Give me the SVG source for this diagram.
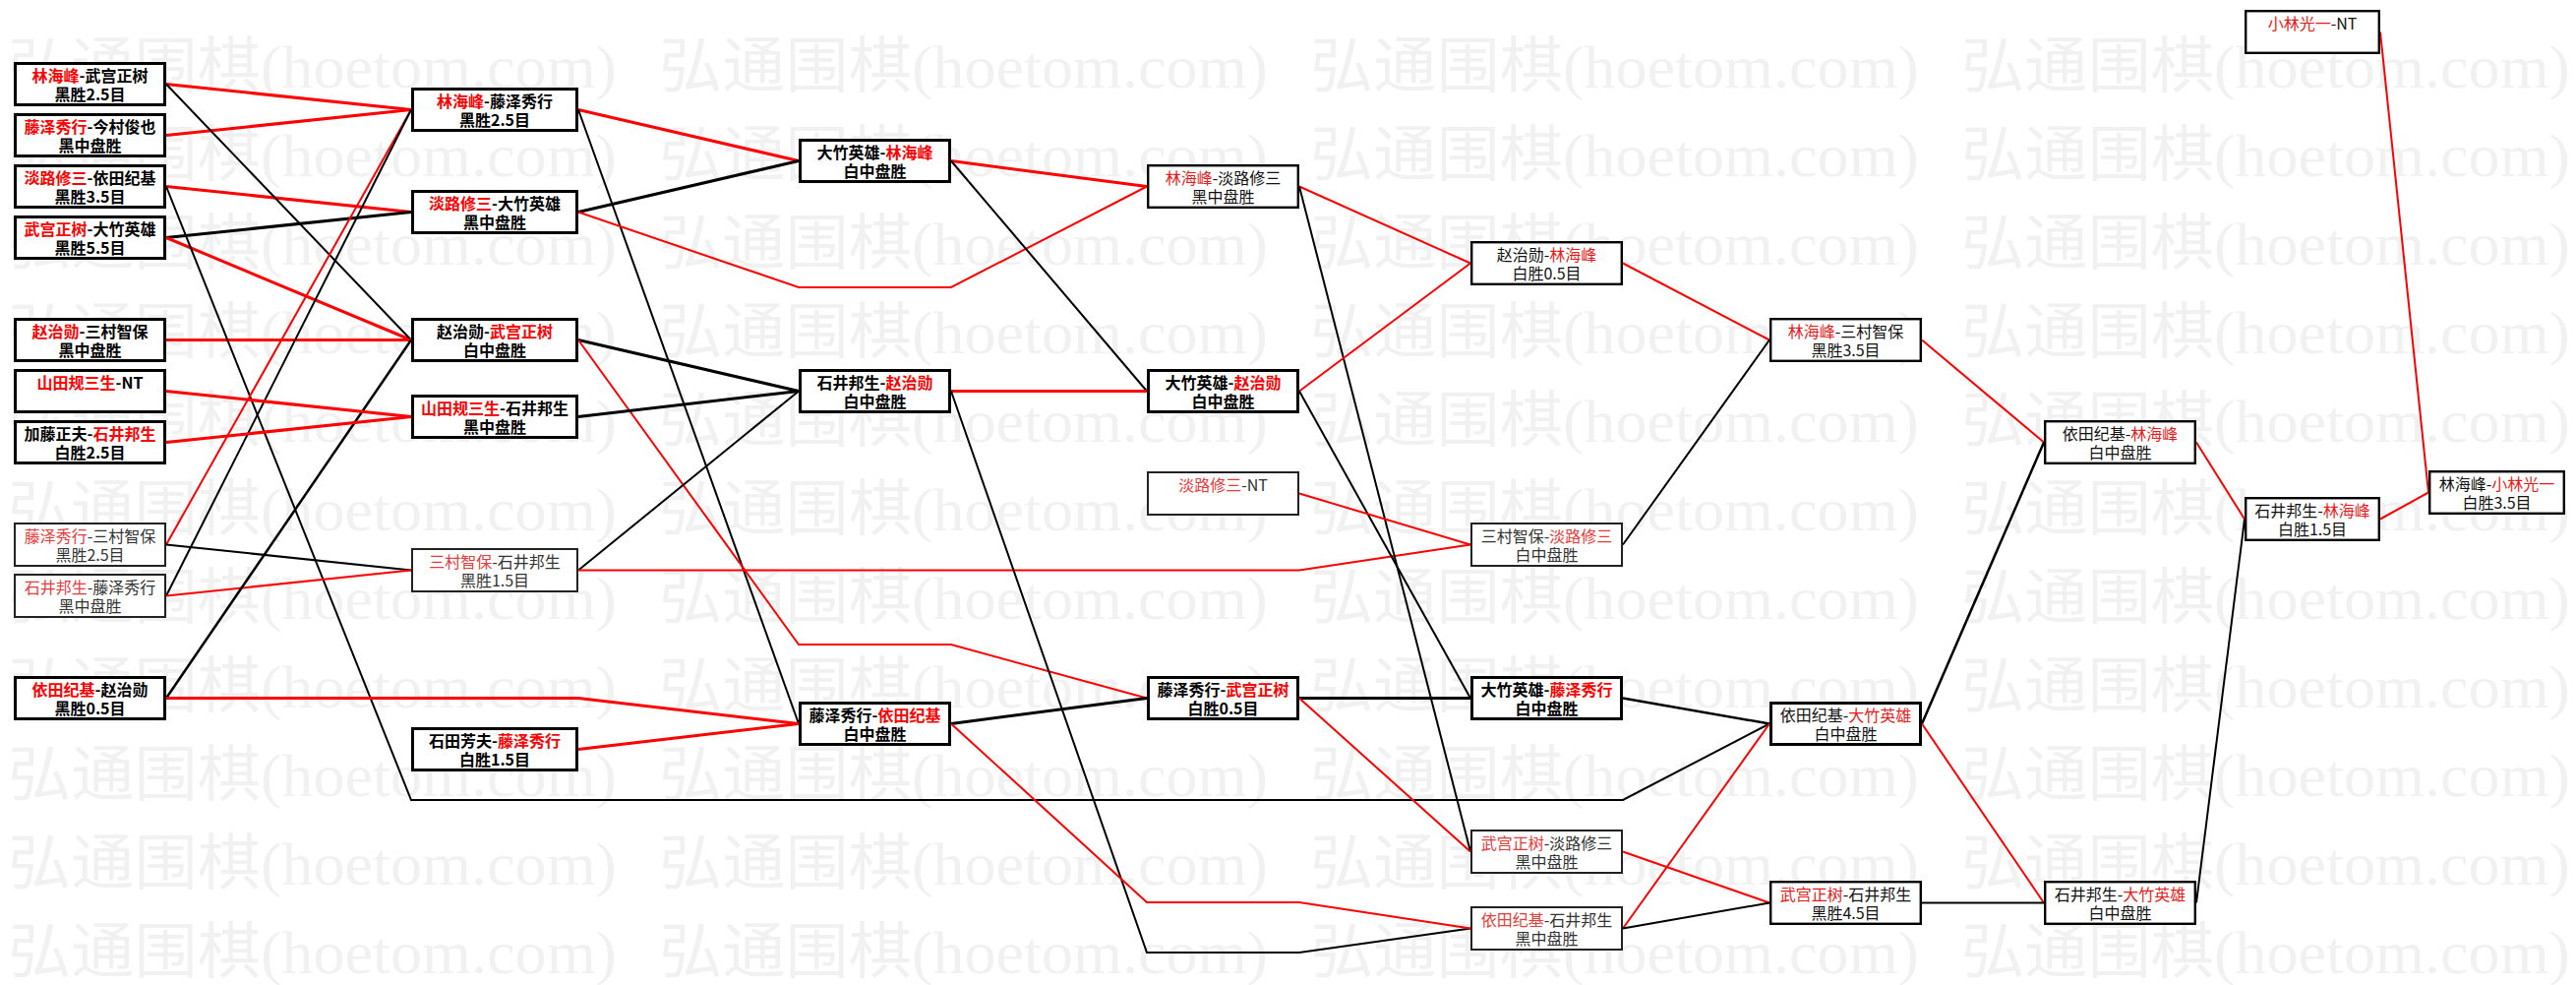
<svg xmlns="http://www.w3.org/2000/svg" width="2619" height="1001" viewBox="0 0 2619 1001">
<style>
.bg{fill:#fff}
.wm{font-family:"Liberation Serif","Noto Sans CJK SC",serif;font-size:62px;fill:#f1f1f1}
.node rect{fill:#fff;stroke:#000}
.s3 rect{stroke-width:3}
.s25 rect{stroke-width:2.4}
.s2 rect{stroke-width:2;stroke:#222}
.node text{font-family:"Noto Sans CJK SC","Noto Sans",sans-serif;font-size:16px;text-anchor:middle;fill:#111}
.bd text{font-weight:bold;fill:#000}
.node .r{fill:#e81a1a}
.bd .r{fill:#f00}
.s2 text{fill:#333}
.s2 .r{fill:#e83a3a}
#connectors path{fill:none;stroke-linejoin:miter}
.k{stroke:#000}
.rd{stroke:#f00}
.w3{stroke-width:3}
.w25{stroke-width:2.5}
.w2{stroke-width:2}
</style>
<rect class="bg" x="0" y="0" width="2619" height="1001"/>
<g id="watermark">
<text class="wm" x="8" y="89" textLength="619" lengthAdjust="spacingAndGlyphs">弘通围棋(hoetom.com)</text>
<text class="wm" x="670" y="89" textLength="619" lengthAdjust="spacingAndGlyphs">弘通围棋(hoetom.com)</text>
<text class="wm" x="1332" y="89" textLength="619" lengthAdjust="spacingAndGlyphs">弘通围棋(hoetom.com)</text>
<text class="wm" x="1994" y="89" textLength="619" lengthAdjust="spacingAndGlyphs">弘通围棋(hoetom.com)</text>
<text class="wm" x="8" y="179" textLength="619" lengthAdjust="spacingAndGlyphs">弘通围棋(hoetom.com)</text>
<text class="wm" x="670" y="179" textLength="619" lengthAdjust="spacingAndGlyphs">弘通围棋(hoetom.com)</text>
<text class="wm" x="1332" y="179" textLength="619" lengthAdjust="spacingAndGlyphs">弘通围棋(hoetom.com)</text>
<text class="wm" x="1994" y="179" textLength="619" lengthAdjust="spacingAndGlyphs">弘通围棋(hoetom.com)</text>
<text class="wm" x="8" y="269" textLength="619" lengthAdjust="spacingAndGlyphs">弘通围棋(hoetom.com)</text>
<text class="wm" x="670" y="269" textLength="619" lengthAdjust="spacingAndGlyphs">弘通围棋(hoetom.com)</text>
<text class="wm" x="1332" y="269" textLength="619" lengthAdjust="spacingAndGlyphs">弘通围棋(hoetom.com)</text>
<text class="wm" x="1994" y="269" textLength="619" lengthAdjust="spacingAndGlyphs">弘通围棋(hoetom.com)</text>
<text class="wm" x="8" y="359" textLength="619" lengthAdjust="spacingAndGlyphs">弘通围棋(hoetom.com)</text>
<text class="wm" x="670" y="359" textLength="619" lengthAdjust="spacingAndGlyphs">弘通围棋(hoetom.com)</text>
<text class="wm" x="1332" y="359" textLength="619" lengthAdjust="spacingAndGlyphs">弘通围棋(hoetom.com)</text>
<text class="wm" x="1994" y="359" textLength="619" lengthAdjust="spacingAndGlyphs">弘通围棋(hoetom.com)</text>
<text class="wm" x="8" y="449" textLength="619" lengthAdjust="spacingAndGlyphs">弘通围棋(hoetom.com)</text>
<text class="wm" x="670" y="449" textLength="619" lengthAdjust="spacingAndGlyphs">弘通围棋(hoetom.com)</text>
<text class="wm" x="1332" y="449" textLength="619" lengthAdjust="spacingAndGlyphs">弘通围棋(hoetom.com)</text>
<text class="wm" x="1994" y="449" textLength="619" lengthAdjust="spacingAndGlyphs">弘通围棋(hoetom.com)</text>
<text class="wm" x="8" y="539" textLength="619" lengthAdjust="spacingAndGlyphs">弘通围棋(hoetom.com)</text>
<text class="wm" x="670" y="539" textLength="619" lengthAdjust="spacingAndGlyphs">弘通围棋(hoetom.com)</text>
<text class="wm" x="1332" y="539" textLength="619" lengthAdjust="spacingAndGlyphs">弘通围棋(hoetom.com)</text>
<text class="wm" x="1994" y="539" textLength="619" lengthAdjust="spacingAndGlyphs">弘通围棋(hoetom.com)</text>
<text class="wm" x="8" y="629" textLength="619" lengthAdjust="spacingAndGlyphs">弘通围棋(hoetom.com)</text>
<text class="wm" x="670" y="629" textLength="619" lengthAdjust="spacingAndGlyphs">弘通围棋(hoetom.com)</text>
<text class="wm" x="1332" y="629" textLength="619" lengthAdjust="spacingAndGlyphs">弘通围棋(hoetom.com)</text>
<text class="wm" x="1994" y="629" textLength="619" lengthAdjust="spacingAndGlyphs">弘通围棋(hoetom.com)</text>
<text class="wm" x="8" y="719" textLength="619" lengthAdjust="spacingAndGlyphs">弘通围棋(hoetom.com)</text>
<text class="wm" x="670" y="719" textLength="619" lengthAdjust="spacingAndGlyphs">弘通围棋(hoetom.com)</text>
<text class="wm" x="1332" y="719" textLength="619" lengthAdjust="spacingAndGlyphs">弘通围棋(hoetom.com)</text>
<text class="wm" x="1994" y="719" textLength="619" lengthAdjust="spacingAndGlyphs">弘通围棋(hoetom.com)</text>
<text class="wm" x="8" y="809" textLength="619" lengthAdjust="spacingAndGlyphs">弘通围棋(hoetom.com)</text>
<text class="wm" x="670" y="809" textLength="619" lengthAdjust="spacingAndGlyphs">弘通围棋(hoetom.com)</text>
<text class="wm" x="1332" y="809" textLength="619" lengthAdjust="spacingAndGlyphs">弘通围棋(hoetom.com)</text>
<text class="wm" x="1994" y="809" textLength="619" lengthAdjust="spacingAndGlyphs">弘通围棋(hoetom.com)</text>
<text class="wm" x="8" y="899" textLength="619" lengthAdjust="spacingAndGlyphs">弘通围棋(hoetom.com)</text>
<text class="wm" x="670" y="899" textLength="619" lengthAdjust="spacingAndGlyphs">弘通围棋(hoetom.com)</text>
<text class="wm" x="1332" y="899" textLength="619" lengthAdjust="spacingAndGlyphs">弘通围棋(hoetom.com)</text>
<text class="wm" x="1994" y="899" textLength="619" lengthAdjust="spacingAndGlyphs">弘通围棋(hoetom.com)</text>
<text class="wm" x="8" y="989" textLength="619" lengthAdjust="spacingAndGlyphs">弘通围棋(hoetom.com)</text>
<text class="wm" x="670" y="989" textLength="619" lengthAdjust="spacingAndGlyphs">弘通围棋(hoetom.com)</text>
<text class="wm" x="1332" y="989" textLength="619" lengthAdjust="spacingAndGlyphs">弘通围棋(hoetom.com)</text>
<text class="wm" x="1994" y="989" textLength="619" lengthAdjust="spacingAndGlyphs">弘通围棋(hoetom.com)</text>
</g>
<g id="connectors">
<path class="rd w3" d="M169,85.5L418,111.5"/>
<path class="rd w3" d="M169,137.5L418,111.5"/>
<path class="rd w3" d="M169,189.5L418,215.5"/>
<path class="k w3" d="M169,241.5L418,215.5"/>
<path class="rd w3" d="M169,241.5L418,345.5"/>
<path class="k w2" d="M169,85.5L418,345.5"/>
<path class="rd w3" d="M169,345.5L418,345.5"/>
<path class="k w2" d="M169,189.5L418,813L1650,813L1799,735.5"/>
<path class="rd w2" d="M169,553.5L418,111.5"/>
<path class="k w2" d="M169,605.5L418,111.5"/>
<path class="k w2" d="M169,553.5L418,579.5"/>
<path class="rd w2" d="M169,605.5L418,579.5"/>
<path class="k w25" d="M169,709.5L418,345.5"/>
<path class="rd w3" d="M169,709.5L588,709.5L812,735.5"/>
<path class="rd w3" d="M169,397.5L418,423.5"/>
<path class="rd w3" d="M169,449.5L418,423.5"/>
<path class="rd w3" d="M588,111.5L812,163.5"/>
<path class="k w2" d="M588,111.5L812,735.5"/>
<path class="k w3" d="M588,215.5L812,163.5"/>
<path class="rd w2" d="M588,215.5L812,292L967,292L1166,189.5"/>
<path class="k w3" d="M588,345.5L812,397.5"/>
<path class="rd w2" d="M588,345.5L812,655L967,655L1166,709.5"/>
<path class="k w3" d="M588,423.5L812,397.5"/>
<path class="k w2" d="M588,579.5L812,397.5"/>
<path class="rd w2" d="M588,579.5L1321,579.5L1495,553.5"/>
<path class="rd w3" d="M588,761.5L812,735.5"/>
<path class="rd w3" d="M967,163.5L1166,189.5"/>
<path class="k w2" d="M967,163.5L1166,397.5"/>
<path class="rd w3" d="M967,397.5L1166,397.5"/>
<path class="k w2" d="M967,397.5L1166,968L1321,968L1495,943.5"/>
<path class="k w3" d="M967,735.5L1166,709.5"/>
<path class="rd w2" d="M967,735.5L1166,917L1321,917L1495,943.5"/>
<path class="rd w2" d="M1321,189.5L1495,267.5"/>
<path class="k w2" d="M1321,189.5L1495,865.5"/>
<path class="rd w2" d="M1321,397.5L1495,267.5"/>
<path class="k w2" d="M1321,397.5L1495,709.5"/>
<path class="rd w2" d="M1321,501.5L1495,553.5"/>
<path class="k w3" d="M1321,709.5L1495,709.5"/>
<path class="rd w2" d="M1321,709.5L1495,865.5"/>
<path class="rd w2" d="M1650,267.5L1799,345.5"/>
<path class="k w2" d="M1650,553.5L1799,345.5"/>
<path class="k w25" d="M1650,709.5L1799,735.5"/>
<path class="rd w2" d="M1650,865.5L1799,917.5"/>
<path class="rd w2" d="M1650,943.5L1799,735.5"/>
<path class="k w2" d="M1650,943.5L1799,917.5"/>
<path class="rd w2" d="M1954,345.5L2078,449.5"/>
<path class="k w25" d="M1954,735.5L2078,449.5"/>
<path class="rd w2" d="M1954,735.5L2078,917.5"/>
<path class="k w2" d="M1954,917.5L2078,917.5"/>
<path class="rd w2" d="M2233,449.5L2282,527.5"/>
<path class="k w2" d="M2233,917.5L2282,527.5"/>
<path class="rd w2" d="M2420,527.5L2469,500.5"/>
<path class="rd w2" d="M2420,32.5L2469,500.5"/>
</g>
<g id="n1" class="node s3 bd"><rect x="15.5" y="64.5" width="152" height="42"/><text x="91.5" y="83"><tspan class="r">林海峰</tspan>-武宫正树</text><text x="91.5" y="102">黑胜2.5目</text></g>
<g id="n2" class="node s3 bd"><rect x="15.5" y="116.5" width="152" height="42"/><text x="91.5" y="135"><tspan class="r">藤泽秀行</tspan>-今村俊也</text><text x="91.5" y="154">黑中盘胜</text></g>
<g id="n3" class="node s3 bd"><rect x="15.5" y="168.5" width="152" height="42"/><text x="91.5" y="187"><tspan class="r">淡路修三</tspan>-依田纪基</text><text x="91.5" y="206">黑胜3.5目</text></g>
<g id="n4" class="node s3 bd"><rect x="15.5" y="220.5" width="152" height="42"/><text x="91.5" y="239"><tspan class="r">武宫正树</tspan>-大竹英雄</text><text x="91.5" y="258">黑胜5.5目</text></g>
<g id="n5" class="node s3 bd"><rect x="15.5" y="324.5" width="152" height="42"/><text x="91.5" y="343"><tspan class="r">赵治勋</tspan>-三村智保</text><text x="91.5" y="362">黑中盘胜</text></g>
<g id="n6" class="node s3 bd"><rect x="15.5" y="376.5" width="152" height="42"/><text x="91.5" y="395"><tspan class="r">山田规三生</tspan>-NT</text></g>
<g id="n7" class="node s3 bd"><rect x="15.5" y="428.5" width="152" height="42"/><text x="91.5" y="447">加藤正夫-<tspan class="r">石井邦生</tspan></text><text x="91.5" y="466">白胜2.5目</text></g>
<g id="n8" class="node s2"><rect x="15" y="532" width="153" height="43"/><text x="91.5" y="551"><tspan class="r">藤泽秀行</tspan>-三村智保</text><text x="91.5" y="570">黑胜2.5目</text></g>
<g id="n9" class="node s2"><rect x="15" y="584" width="153" height="43"/><text x="91.5" y="603"><tspan class="r">石井邦生</tspan>-藤泽秀行</text><text x="91.5" y="622">黑中盘胜</text></g>
<g id="n10" class="node s3 bd"><rect x="15.5" y="688.5" width="152" height="42"/><text x="91.5" y="707"><tspan class="r">依田纪基</tspan>-赵治勋</text><text x="91.5" y="726">黑胜0.5目</text></g>
<g id="n11" class="node s3 bd"><rect x="419.5" y="90.5" width="167" height="42"/><text x="503" y="109"><tspan class="r">林海峰</tspan>-藤泽秀行</text><text x="503" y="128">黑胜2.5目</text></g>
<g id="n12" class="node s3 bd"><rect x="419.5" y="194.5" width="167" height="42"/><text x="503" y="213"><tspan class="r">淡路修三</tspan>-大竹英雄</text><text x="503" y="232">黑中盘胜</text></g>
<g id="n13" class="node s3 bd"><rect x="419.5" y="324.5" width="167" height="42"/><text x="503" y="343">赵治勋-<tspan class="r">武宫正树</tspan></text><text x="503" y="362">白中盘胜</text></g>
<g id="n14" class="node s3 bd"><rect x="419.5" y="402.5" width="167" height="42"/><text x="503" y="421"><tspan class="r">山田规三生</tspan>-石井邦生</text><text x="503" y="440">黑中盘胜</text></g>
<g id="n15" class="node s2"><rect x="419" y="558" width="168" height="43"/><text x="503" y="577"><tspan class="r">三村智保</tspan>-石井邦生</text><text x="503" y="596">黑胜1.5目</text></g>
<g id="n16" class="node s3 bd"><rect x="419.5" y="740.5" width="167" height="42"/><text x="503" y="759">石田芳夫-<tspan class="r">藤泽秀行</tspan></text><text x="503" y="778">白胜1.5目</text></g>
<g id="n17" class="node s3 bd"><rect x="813.5" y="142.5" width="152" height="42"/><text x="889.5" y="161">大竹英雄-<tspan class="r">林海峰</tspan></text><text x="889.5" y="180">白中盘胜</text></g>
<g id="n19" class="node s3 bd"><rect x="813.5" y="376.5" width="152" height="42"/><text x="889.5" y="395">石井邦生-<tspan class="r">赵治勋</tspan></text><text x="889.5" y="414">白中盘胜</text></g>
<g id="n34" class="node s3 bd"><rect x="813.5" y="714.5" width="152" height="42"/><text x="889.5" y="733">藤泽秀行-<tspan class="r">依田纪基</tspan></text><text x="889.5" y="752">白中盘胜</text></g>
<g id="n18" class="node s25"><rect x="1167.2" y="168.2" width="152.6" height="42.6"/><text x="1243.5" y="187"><tspan class="r">林海峰</tspan>-淡路修三</text><text x="1243.5" y="206">黑中盘胜</text></g>
<g id="n20" class="node s3 bd"><rect x="1167.5" y="376.5" width="152" height="42"/><text x="1243.5" y="395">大竹英雄-<tspan class="r">赵治勋</tspan></text><text x="1243.5" y="414">白中盘胜</text></g>
<g id="n21" class="node s2"><rect x="1167" y="480" width="153" height="43"/><text x="1243.5" y="499"><tspan class="r">淡路修三</tspan>-NT</text></g>
<g id="n23" class="node s3 bd"><rect x="1167.5" y="688.5" width="152" height="42"/><text x="1243.5" y="707">藤泽秀行-<tspan class="r">武宫正树</tspan></text><text x="1243.5" y="726">白胜0.5目</text></g>
<g id="n35" class="node s25"><rect x="1496.2" y="246.2" width="152.6" height="42.6"/><text x="1572.5" y="265">赵治勋-<tspan class="r">林海峰</tspan></text><text x="1572.5" y="284">白胜0.5目</text></g>
<g id="n22" class="node s2"><rect x="1496" y="532" width="153" height="43"/><text x="1572.5" y="551">三村智保-<tspan class="r">淡路修三</tspan></text><text x="1572.5" y="570">白中盘胜</text></g>
<g id="n24" class="node s3 bd"><rect x="1496.5" y="688.5" width="152" height="42"/><text x="1572.5" y="707">大竹英雄-<tspan class="r">藤泽秀行</tspan></text><text x="1572.5" y="726">白中盘胜</text></g>
<g id="n25" class="node s2"><rect x="1496" y="844" width="153" height="43"/><text x="1572.5" y="863"><tspan class="r">武宫正树</tspan>-淡路修三</text><text x="1572.5" y="882">黑中盘胜</text></g>
<g id="n26" class="node s2"><rect x="1496" y="922" width="153" height="43"/><text x="1572.5" y="941"><tspan class="r">依田纪基</tspan>-石井邦生</text><text x="1572.5" y="960">黑中盘胜</text></g>
<g id="n36" class="node s25"><rect x="1800.2" y="324.2" width="152.6" height="42.6"/><text x="1876.5" y="343"><tspan class="r">林海峰</tspan>-三村智保</text><text x="1876.5" y="362">黑胜3.5目</text></g>
<g id="n27" class="node s3"><rect x="1800.5" y="714.5" width="152" height="42"/><text x="1876.5" y="733">依田纪基-<tspan class="r">大竹英雄</tspan></text><text x="1876.5" y="752">白中盘胜</text></g>
<g id="n28" class="node s25"><rect x="1800.2" y="896.2" width="152.6" height="42.6"/><text x="1876.5" y="915"><tspan class="r">武宫正树</tspan>-石井邦生</text><text x="1876.5" y="934">黑胜4.5目</text></g>
<g id="n31" class="node s25"><rect x="2079.2" y="428.2" width="152.6" height="42.6"/><text x="2155.5" y="447">依田纪基-<tspan class="r">林海峰</tspan></text><text x="2155.5" y="466">白中盘胜</text></g>
<g id="n29" class="node s25"><rect x="2079.2" y="896.2" width="152.6" height="42.6"/><text x="2155.5" y="915">石井邦生-<tspan class="r">大竹英雄</tspan></text><text x="2155.5" y="934">白中盘胜</text></g>
<g id="n30" class="node s25"><rect x="2283.2" y="11.2" width="135.6" height="42.6"/><text x="2351" y="30"><tspan class="r">小林光一</tspan>-NT</text></g>
<g id="n32" class="node s25"><rect x="2283.2" y="506.2" width="135.6" height="42.6"/><text x="2351" y="525">石井邦生-<tspan class="r">林海峰</tspan></text><text x="2351" y="544">白胜1.5目</text></g>
<g id="n33" class="node s25"><rect x="2470.2" y="479.2" width="136.6" height="42.6"/><text x="2538.5" y="498">林海峰-<tspan class="r">小林光一</tspan></text><text x="2538.5" y="517">白胜3.5目</text></g>
</svg>
